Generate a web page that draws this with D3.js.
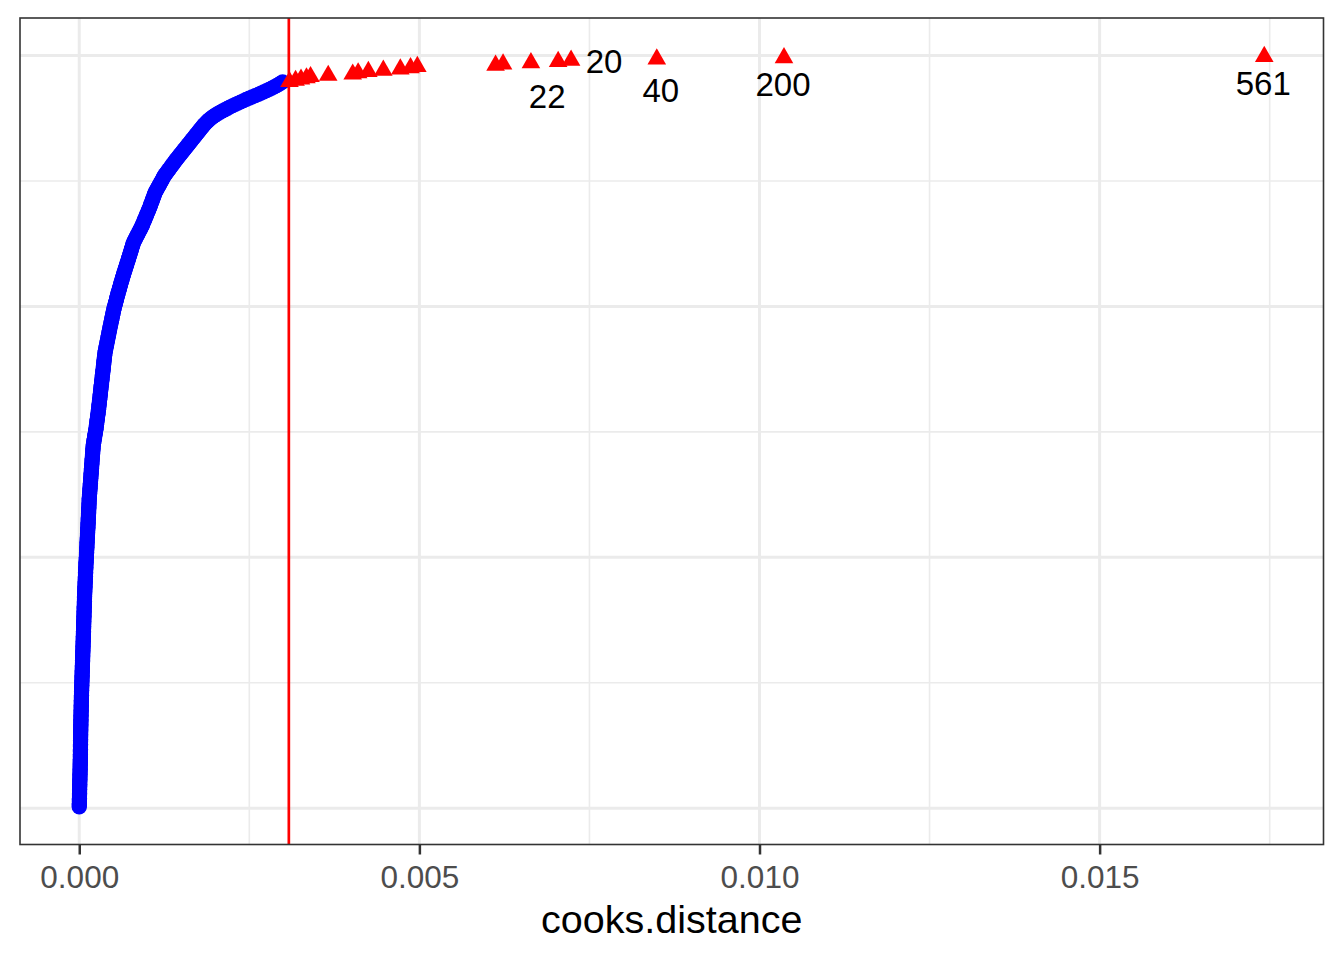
<!DOCTYPE html>
<html><head><meta charset="utf-8">
<script src="https://cdn.jsdelivr.net/npm/d3@7/dist/d3.min.js"></script>
<style>body{margin:0;background:#fff}svg{display:block}</style>
</head><body>
<script>
// Cook's distances (in units of 1e-6), sorted ascending, below the cut-off
const blueCooksMicro = [
0,0,1,1,2,2,2,3,3,4,4,5,5,5,6,6,7,7,7,8,8,9,9,10,10,10,11,11,12,12,13,13,13,14,14,15,
15,15,16,16,16,16,17,17,17,17,18,18,18,18,19,19,19,19,20,20,20,20,21,21,21,22,22,
22,23,23,23,24,24,25,25,25,26,26,26,27,27,28,28,28,29,29,29,30,30,31,31,31,32,
33,33,34,34,35,35,36,37,37,38,38,39,39,40,41,41,42,42,43,43,44,45,45,46,46,47,48,
49,49,50,50,51,51,52,52,53,54,54,55,55,56,56,57,58,58,59,59,60,60,61,62,62,63,
64,64,65,65,66,66,67,67,68,69,69,70,70,71,71,72,72,73,73,74,75,75,76,76,77,77,78,
79,80,80,81,82,83,84,84,85,86,87,88,88,89,90,91,92,93,93,94,95,96,97,97,98,99,100,
101,102,103,104,105,106,107,108,109,110,111,112,113,113,114,115,116,117,118,119,120,121,122,123,124,125,
126,127,128,129,130,131,131,132,133,134,135,136,137,138,138,139,140,141,142,143,144,145,145,146,147,148,150,
151,153,154,156,157,158,160,161,162,164,165,167,168,169,171,172,173,175,176,177,179,180,182,183,184,186,187,
188,190,191,193,194,195,197,198,200,201,202,204,205,
208,211,214,217,220,223,226,229,232,235,238,242,245,
247,250,252,255,257,259,262,264,267,269,272,274,277,279,282,284,
286,288,290,292,294,296,298,301,303,305,307,309,311,313,315,317,319,321,324,326,328,330,332,334,336,338,
340,342,345,347,349,351,353,355,357,359,361,363,365,367,369,372,374,376,378,
382,385,389,393,396,400,404,407,411,415,418,422,426,429,433,437,440,444,448,451,455,
459,463,467,471,475,479,483,486,490,494,498,502,506,510,514,
519,524,529,534,539,544,549,553,558,563,568,573,
578,584,589,594,600,605,610,616,621,626,632,637,642,
648,654,660,665,671,677,683,689,695,701,706,712,718,724,
730,735,741,747,752,758,764,769,775,781,787,792,798,
807,817,826,836,845,855,864,874,883,893,902,912,921,
929,936,944,952,959,967,975,983,990,998,1006,1013,1021,1029,
1036,1043,1049,1056,1063,1070,1076,1083,1090,1097,1103,1110,1117,
1127,1137,1148,1158,1168,1178,1188,1198,1209,1219,1229,1239,1249,
1263,1276,1290,1303,1317,1330,1344,1357,1371,1384,1398,1411,1425,
1440,1454,1469,1484,1498,1513,1528,1542,1557,1572,1587,1601,1616,
1631,1645,1660,1675,1690,1704,1719,1734,1748,1763,1778,1792,1807,1822,
1838,1855,1873,1892,1912,1934,1958,1984,2012,2042,2074,
2108,2143,2179,2216,2254,2293,2333,2373,2414,2455,
2499,2543,2587,2631,2672,2713,2753,2792,2830,2866,
2900,2932,2962,2990
];
// Cook's distances (1e-6) above the cut-off
const redCooksMicro = [3090,3180,3260,3340,3400,3660,4020,4100,4250,4470,4720,4870,4970,6120,6230,6640,7040,7230,8490,10360,17420];
const cutoff = 0.003081;
// observation ids of the five largest values (ascending)
const labelObs = ["22","20","40","200","561"];
const xTickLabels = ["0.000","0.005","0.010","0.015"];
const xMajor = [0, 0.005, 0.010, 0.015];
const xMinor = [0.0025, 0.0075, 0.0125, 0.0175];
const yMajor = [0, 200, 400, 600];
const yMinor = [100, 300, 500];
const xTitle = "cooks.distance";

// layout (not data)
const W = 1344, H = 960;
const P = {left: 20, right: 1323.5, top: 18, bottom: 844.5};
const labelNudge = [[-11, 36], [33, 1.6], [4, 32], [-1, 27], [-1, 27.5]];
const FONT = "'Liberation Sans', Arial, Helvetica, sans-serif";

const values = blueCooksMicro.concat(redCooksMicro).map(v => v / 1e6);
const pts = values.map((v, i) => ({cd: v, rank: i + 1, out: v > cutoff}));
const N = pts.length;

const xExt = d3.extent(values), xPad = (xExt[1] - xExt[0]) * 0.05;
const x = d3.scaleLinear().domain([xExt[0] - xPad, xExt[1] + xPad]).range([P.left, P.right]);
const yPad = (N - 1) * 0.05;
const y = d3.scaleLinear().domain([1 - yPad, N + yPad]).range([P.bottom, P.top]);

const svg = d3.select("body").append("svg").attr("width", W).attr("height", H);
svg.append("rect").attr("width", W).attr("height", H).attr("fill", "#fff");

svg.append("clipPath").attr("id", "pc").append("rect")
  .attr("x", P.left).attr("y", P.top).attr("width", P.right - P.left).attr("height", P.bottom - P.top);

const grid = svg.append("g");
grid.selectAll(".xmin").data(xMinor.filter(d => x(d) > P.left && x(d) < P.right)).join("line")
  .attr("x1", d => x(d)).attr("x2", d => x(d)).attr("y1", P.top).attr("y2", P.bottom)
  .attr("stroke", "#EBEBEB").attr("stroke-width", 1.6);
grid.selectAll(".ymin").data(yMinor).join("line")
  .attr("y1", d => y(d)).attr("y2", d => y(d)).attr("x1", P.left).attr("x2", P.right)
  .attr("stroke", "#EBEBEB").attr("stroke-width", 1.6);
grid.selectAll(".xmaj").data(xMajor).join("line")
  .attr("x1", d => x(d)).attr("x2", d => x(d)).attr("y1", P.top).attr("y2", P.bottom)
  .attr("stroke", "#EBEBEB").attr("stroke-width", 3);
grid.selectAll(".ymaj").data(yMajor).join("line")
  .attr("y1", d => y(d)).attr("y2", d => y(d)).attr("x1", P.left).attr("x2", P.right)
  .attr("stroke", "#EBEBEB").attr("stroke-width", 3);

const plot = svg.append("g").attr("clip-path", "url(#pc)");
plot.selectAll("circle").data(pts.filter(d => !d.out)).join("circle")
  .attr("cx", d => x(d.cd)).attr("cy", d => y(d.rank)).attr("r", 7.6)
  .attr("fill", "#0000FF");
const tri = d3.symbol(d3.symbolTriangle).size(150);
plot.selectAll("path.tri").data(pts.filter(d => d.out)).join("path")
  .attr("class", "tri")
  .attr("d", tri).attr("transform", d => `translate(${x(d.cd)},${y(d.rank) + 1})`)
  .attr("fill", "#FF0000");
plot.append("line").attr("x1", x(cutoff)).attr("x2", x(cutoff)).attr("y1", P.top).attr("y2", P.bottom)
  .attr("stroke", "#FF0000").attr("stroke-width", 2.7);

// labels for the five largest
const top5 = pts.slice(N - labelObs.length);
const LFS = 33;
svg.append("g").selectAll("text").data(top5).join("text")
  .attr("x", (d, i) => x(d.cd) + labelNudge[i][0])
  .attr("y", (d, i) => y(d.rank) + labelNudge[i][1] + LFS * 0.358)
  .attr("text-anchor", "middle").attr("font-family", FONT).attr("font-size", LFS)
  .attr("fill", "#000").text((d, i) => labelObs[i]);

// panel border
svg.append("rect").attr("x", P.left).attr("y", P.top).attr("width", P.right - P.left).attr("height", P.bottom - P.top)
  .attr("fill", "none").attr("stroke", "#333333").attr("stroke-width", 1.6);

// x axis
const xAxis = d3.axisBottom(x).tickValues(xMajor).tickSize(10).tickPadding(8)
  .tickFormat((d, i) => xTickLabels[i]);
const ax = svg.append("g").attr("transform", `translate(0,${P.bottom})`).call(xAxis);
ax.select(".domain").remove();
ax.selectAll(".tick line").attr("stroke", "#333333").attr("stroke-width", 2.5);
ax.selectAll(".tick text").attr("fill", "#4D4D4D").attr("font-family", FONT).attr("font-size", 31.5)
  .attr("dy", null).attr("y", 43.5);

svg.append("text").attr("x", (P.left + P.right) / 2).attr("y", 933)
  .attr("text-anchor", "middle").attr("font-family", FONT).attr("font-size", 39.5)
  .attr("fill", "#000").text(xTitle);
</script>
</body></html>
